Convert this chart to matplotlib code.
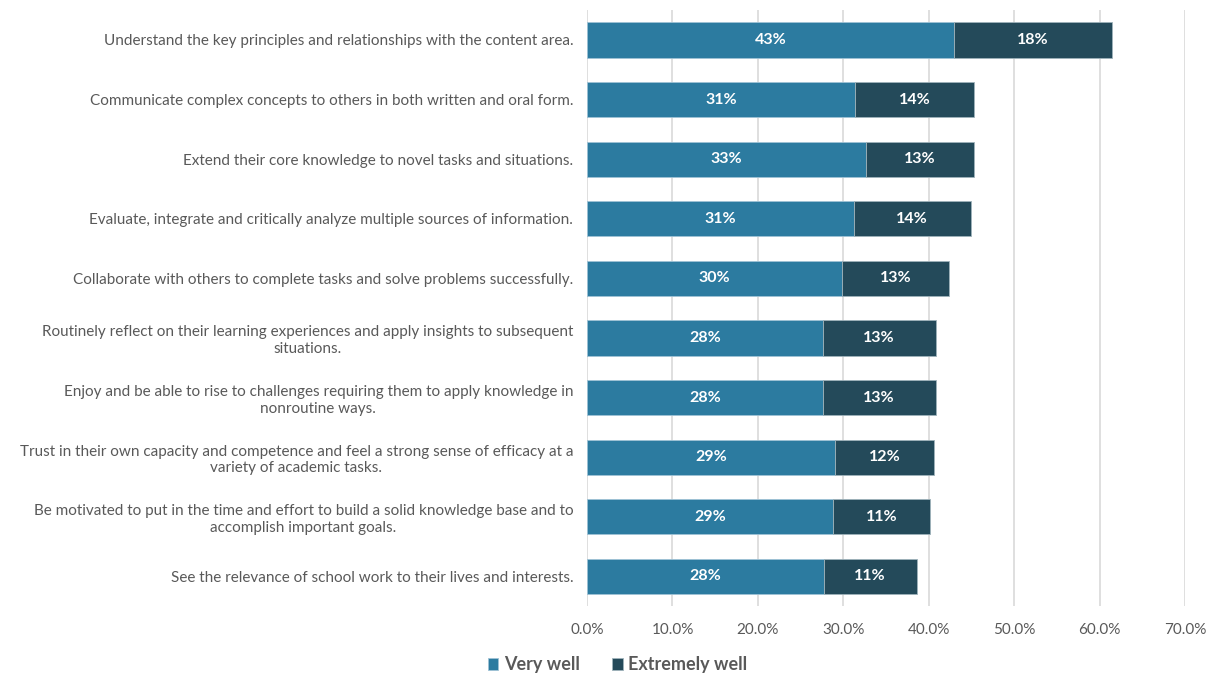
import matplotlib.pyplot as plt
import numpy as np

plt.rcParams['font.family'] = ['Lato', 'DejaVu Sans']

categories = [
    "Understand the key principles and relationships with the content area.",
    "Communicate complex concepts to others in both written and oral form.",
    "Extend their core knowledge to novel tasks and situations.",
    "Evaluate, integrate and critically analyze multiple sources of information.",
    "Collaborate with others to complete tasks and solve problems successfully.",
    "Routinely reflect on their learning experiences and apply insights to subsequent\nsituations.",
    "Enjoy and be able to rise to challenges requiring them to apply knowledge in\nnonroutine ways.",
    "Trust in their own capacity and competence and feel a strong sense of efficacy at a\nvariety of academic tasks.",
    "Be motivated to put in the time and effort to build a solid knowledge base and to\naccomplish important goals.",
    "See the relevance of school work to their lives and interests.",
]
very_well = [42.9, 31.4, 32.7, 31.2, 29.8, 27.6, 27.6, 29.0, 28.8, 27.7]
extremely_well = [18.5, 13.9, 12.6, 13.7, 12.6, 13.2, 13.2, 11.6, 11.3, 10.9]
series_names = ["Very well", "Extremely well"]
colors = ["#2C7BA0", "#244A5A"]
xticks = [0, 10, 20, 30, 40, 50, 60, 70]

fig = plt.figure(figsize=(12.23, 6.75), dpi=100)
ax = fig.add_axes([0.48, 0.102, 0.489, 0.883])

y = np.arange(len(categories))
vw = np.array(very_well)
ew = np.array(extremely_well)

b1 = ax.barh(y, vw, height=0.59, color=colors[0], edgecolor="#9fc3d6", linewidth=0.6,
             label=series_names[0], zorder=3)
b2 = ax.barh(y, ew, left=vw, height=0.59, color=colors[1], edgecolor="#9fb3bb", linewidth=0.6,
             label=series_names[1], zorder=3)

# segment values, centred inside each bar piece
for vals, lefts in ((vw, np.zeros_like(vw)), (ew, vw)):
    for yi, v, l in zip(y, vals, lefts):
        ax.text(l + v / 2, yi, f"{round(v):d}%", ha="center", va="center",
                color="white", fontsize=11.5, fontweight="bold", zorder=4)

ax.set_ylim(len(categories) - 0.5, -0.5)
ax.set_xlim(0, 70)
ax.set_xticks(xticks)
ax.set_xticklabels([f"{t:.1f}%" for t in xticks])
ax.set_yticks(y)
ax.set_yticklabels(categories, linespacing=1.25)
for lab in ax.get_yticklabels():
    lab.set_multialignment("center")

ax.tick_params(axis="both", length=0, colors="#595959", labelsize=11)
ax.tick_params(axis="y", pad=10)
ax.tick_params(axis="x", pad=12)
ax.grid(axis="x", color="#d9d9d9", linewidth=1.2, zorder=0)
for s in ax.spines.values():
    s.set_visible(False)

leg = fig.legend(handles=[b1, b2], labels=series_names, loc="center",
                 bbox_to_anchor=(0.505, 0.015), ncol=2, frameon=False,
                 handlelength=0.6, handleheight=0.6, handletextpad=0.3,
                 columnspacing=1.8, prop={"size": 13, "weight": "bold"})
for t in leg.get_texts():
    t.set_color("#595959")

fig.savefig("out.png", dpi=100)
